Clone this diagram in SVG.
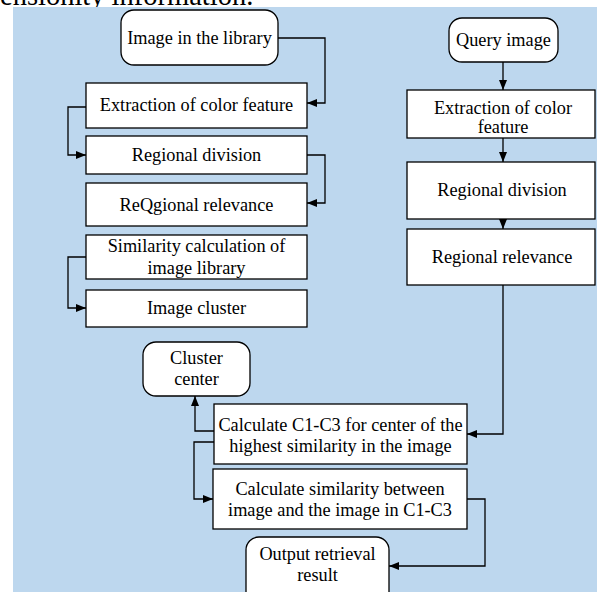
<svg xmlns="http://www.w3.org/2000/svg" width="597" height="592" viewBox="0 0 597 592">
<defs>
<style>
.box{fill:#fff;stroke:#000;stroke-width:1.3}
.t{font-family:"Liberation Serif","Times New Roman",serif;font-size:18.3px;fill:#000;text-anchor:middle}
.c{fill:none;stroke:#000;stroke-width:1.3}
</style>
<marker id="a" viewBox="0 0 10 8" refX="10" refY="4" markerWidth="10" markerHeight="8" markerUnits="userSpaceOnUse" orient="auto">
<path d="M0,0L10,4L0,8Z" fill="#000"/>
</marker>
</defs>
<rect x="0" y="0" width="597" height="592" fill="#fff"/>
<text x="0" y="5" style="font-family:'Liberation Serif','Times New Roman',serif;font-size:28.5px">ensionity information.</text>
<rect x="13" y="7" width="584" height="585" fill="#bdd7ee"/>
<g id="connectors">
<path class="c" d="M278,38H325V103H307" marker-end="url(#a)"/>
<path class="c" d="M86,107H68V155H86" marker-end="url(#a)"/>
<path class="c" d="M307,155H325V203H307" marker-end="url(#a)"/>
<path class="c" d="M86,257H68V308H86" marker-end="url(#a)"/>
<path class="c" d="M503,62V90" marker-end="url(#a)"/>
<path class="c" d="M503,138V162" marker-end="url(#a)"/>
<path class="c" d="M503,219V229" marker-end="url(#a)"/>
<path class="c" d="M503,285V434H467" marker-end="url(#a)"/>
<path class="c" d="M214,431H195V396" marker-end="url(#a)"/>
<path class="c" d="M214,442H194V499H213" marker-end="url(#a)"/>
<path class="c" d="M467,499H485V566H389" marker-end="url(#a)"/>
</g>
<g id="lib"><rect class="box" x="121" y="10" width="157" height="55" rx="13"/><text class="t" x="199.5" y="44">Image in the library</text></g>
<g id="ext1"><rect class="box" x="86" y="83" width="221" height="45"/><text class="t" x="196.5" y="111">Extraction of color feature</text></g>
<g id="div1"><rect class="box" x="86" y="136" width="221" height="38"/><text class="t" x="196.5" y="161">Regional division</text></g>
<g id="rel1"><rect class="box" x="86" y="183" width="221" height="43"/><text class="t" x="196.5" y="211">ReQgional relevance</text></g>
<g id="sim"><rect class="box" x="86" y="235" width="221" height="44"/><text class="t" x="196.5" y="252">Similarity calculation of</text><text class="t" x="196.5" y="274">image library</text></g>
<g id="clu"><rect class="box" x="86" y="290" width="221" height="37"/><text class="t" x="196.5" y="314">Image cluster</text></g>
<g id="q"><rect class="box" x="449" y="18" width="109" height="44" rx="13"/><text class="t" x="503.5" y="46">Query image</text></g>
<g id="ext2"><rect class="box" x="407" y="90" width="188" height="48"/><text class="t" x="503" y="114">Extraction of color</text><text class="t" x="503" y="133">feature</text></g>
<g id="div2"><rect class="box" x="407" y="162" width="188" height="57"/><text class="t" x="502" y="196">Regional division</text></g>
<g id="rel2"><rect class="box" x="407" y="229" width="188" height="56"/><text class="t" x="502" y="263">Regional relevance</text></g>
<g id="cc"><rect class="box" x="143" y="342" width="107" height="54" rx="13"/><text class="t" x="196.5" y="364">Cluster</text><text class="t" x="196.5" y="385">center</text></g>
<g id="c13"><rect class="box" x="214" y="404" width="253" height="60"/><text class="t" x="340.5" y="431">Calculate C1-C3 for center of the</text><text class="t" x="340.5" y="452">highest similarity in the image</text></g>
<g id="cs"><rect class="box" x="213" y="469" width="254" height="60"/><text class="t" x="340" y="495">Calculate similarity between</text><text class="t" x="340" y="516">image and the image in C1-C3</text></g>
<g id="out"><rect class="box" x="246" y="537" width="143" height="70" rx="13"/><text class="t" x="317.5" y="560">Output retrieval</text><text class="t" x="317.5" y="581">result</text></g>
</svg>
